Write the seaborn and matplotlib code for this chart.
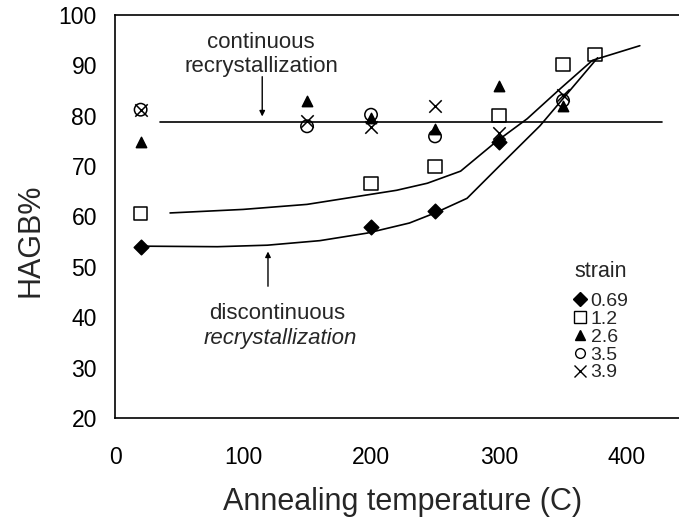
import seaborn as sns
import matplotlib.pyplot as plt
import pandas as pd
from matplotlib.lines import Line2D

# measured points, HAGB% vs annealing temperature
temp_069 = [20, 200, 250, 300]
hagb_069 = [54.0, 58.0, 61.0, 74.8]

temp_12 = [20, 200, 250, 300, 350, 375]
hagb_12 = [60.6, 66.6, 70.0, 80.0, 90.1, 92.1]

temp_26 = [20, 150, 200, 250, 300, 350]
hagb_26 = [74.8, 82.9, 79.6, 77.3, 86.0, 81.9]

temp_35 = [20, 150, 200, 250, 350]
hagb_35 = [81.2, 77.9, 80.2, 75.9, 83.0]

temp_39 = [20, 150, 200, 250, 300, 350]
hagb_39 = [81.2, 79.0, 77.7, 82.0, 76.5, 84.2]

# hand-drawn trend curves
upper_x = [43, 100, 150, 190, 220, 244, 270, 298, 322, 348, 373, 410]
upper_y = [60.7, 61.4, 62.4, 64.0, 65.2, 66.6, 69.0, 74.9, 79.4, 85.4, 91.0, 93.9]
lower_x = [25, 80, 119, 160, 197, 230, 250, 275, 301, 332, 348, 377]
lower_y = [54.1, 54.0, 54.3, 55.2, 56.7, 58.7, 60.7, 63.6, 70.2, 78.0, 82.8, 91.5]
cont_x = [35, 427]
cont_y = [78.7, 78.7]

strains = ["0.69", "1.2", "2.6", "3.5", "3.9"]
markers = ["D", "s", "^", "o", "x"]
filled = [True, False, True, False, False]
sizes = [55, 90, 55, 80, 80]

sns.set_theme(style="white")
plt.rcParams["font.family"] = ["Liberation Sans", "DejaVu Sans"]

fig = plt.figure(figsize=(6.79, 5.2), dpi=100)
ax = fig.add_axes([0.1694, 0.1962, 0.8306, 0.7750])

for xs, ys in [(upper_x, upper_y), (lower_x, lower_y), (cont_x, cont_y)]:
    sns.lineplot(x=xs, y=ys, ax=ax, color="black", lw=1.2,
                 estimator=None, sort=False)

groups = [(temp_069, hagb_069), (temp_12, hagb_12), (temp_26, hagb_26),
          (temp_35, hagb_35), (temp_39, hagb_39)]
for (xs, ys), m, f, s in zip(groups, markers, filled, sizes):
    df = pd.DataFrame({"temp": xs, "hagb": ys})
    if m == "x":
        sns.scatterplot(data=df, x="temp", y="hagb", ax=ax, marker=m,
                        s=s, color="black", linewidth=1.1, zorder=3)
    else:
        sns.scatterplot(data=df, x="temp", y="hagb", ax=ax, marker=m,
                        s=s, facecolor="black" if f else "none",
                        edgecolor="black", linewidth=1.1, zorder=3)

ax.set_xlim(0, 440.6)
ax.set_ylim(20, 100)
ax.set_xticks([0, 100, 200, 300, 400])
ax.set_yticks(range(20, 101, 10))
ax.tick_params(axis="both", direction="out", length=4, width=1,
               labelsize=16.5, colors="black")
ax.tick_params(axis="x", pad=16)
ax.tick_params(axis="y", pad=9)
for side in ["left", "bottom", "top"]:
    ax.spines[side].set_color("black")
    ax.spines[side].set_linewidth(1.2)
ax.spines["right"].set_visible(False)

ax.set_xlabel("Annealing temperature (C)", fontsize=22)
ax.xaxis.set_label_coords(0.51, -0.172)
ax.set_ylabel("HAGB%", fontsize=22)
ax.yaxis.set_label_coords(-0.123, 0.44)

ax.text(114, 92.2, "continuous\nrecrystallization", ha="center",
        va="center", fontsize=16, linespacing=1.2)
ax.annotate("", xy=(115, 79.3), xytext=(115, 88.3),
            arrowprops=dict(arrowstyle="-|>", color="black", lw=1,
                            mutation_scale=8))
ax.text(127, 40.7, "discontinuous", ha="center", va="center", fontsize=16)
ax.text(129, 35.7, "recrystallization", ha="center", va="center",
        fontsize=16, style="italic")
ax.annotate("", xy=(119.5, 53.6), xytext=(119.5, 45.6),
            arrowprops=dict(arrowstyle="-|>", color="black", lw=1,
                            mutation_scale=8))

handles = []
for m, f in zip(markers, filled):
    if m == "x":
        handles.append(Line2D([], [], ls="", marker=m, color="black",
                              markersize=8, mew=1))
    else:
        handles.append(Line2D([], [], ls="", marker=m, color="black",
                              markerfacecolor="black" if f else "none",
                              markersize=7 if m != "s" else 8, mew=1))
leg = ax.legend(handles, strains, title="strain", loc="upper left",
                bbox_to_anchor=(0.8, 0.41), frameon=False, fontsize=14,
                title_fontsize=15.5, handlelength=0.6, handletextpad=0.25,
                labelspacing=0.01, borderaxespad=0)
leg._legend_box.align = "left"
leg._legend_box.sep = 8

fig.savefig("out.png", dpi=100)
